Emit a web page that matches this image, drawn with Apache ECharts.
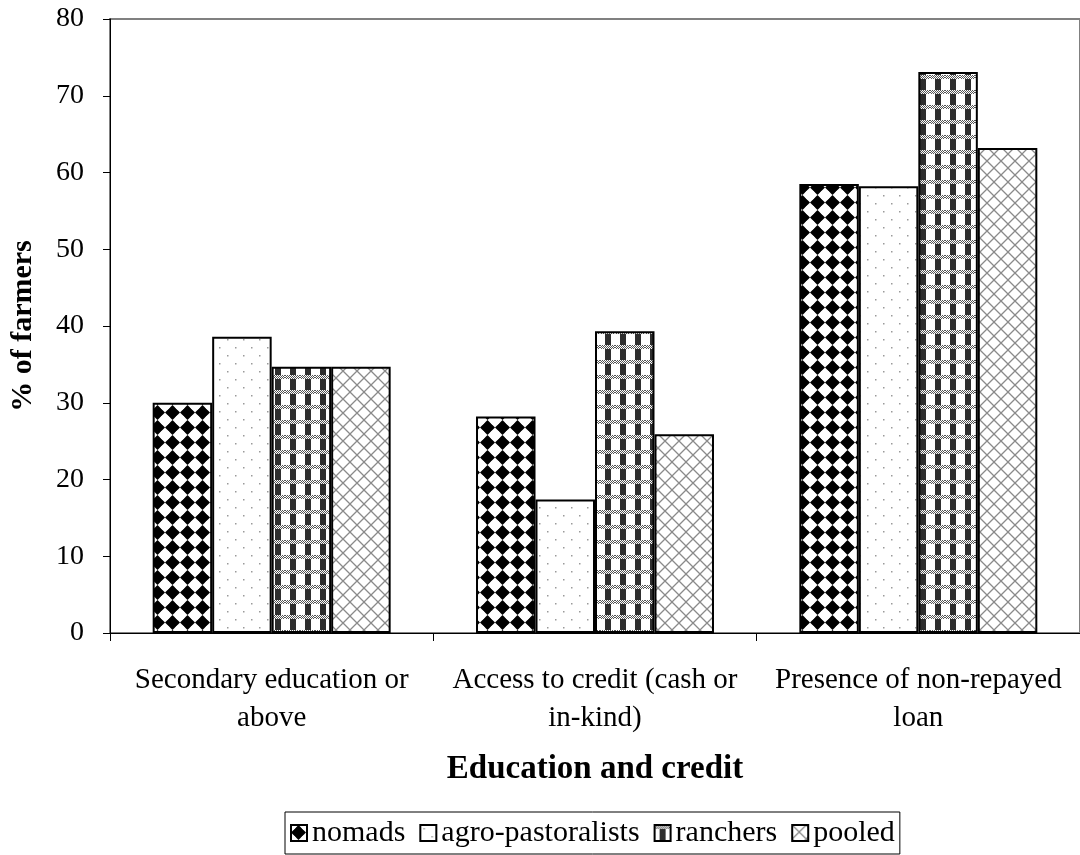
<!DOCTYPE html>
<html>
<head>
<meta charset="utf-8">
<script src="https://cdn.jsdelivr.net/npm/echarts@6/dist/echarts.min.js"></script>
<style>
  html, body { margin: 0; padding: 0; background: #fff; }
  #chart { width: 1080px; height: 855px; }
</style>
</head>
<body>
<div id="chart"></div>
<script>
// data
var categories = ['Secondary education or\nabove', 'Access to credit (cash or\nin-kind)', 'Presence of non-repayed\nloan'];
var nomads = [30.0, 28.2, 58.5];
var agroPastoralists = [38.6, 17.4, 58.2];
var ranchers = [34.7, 39.3, 73.1];
var pooled = [34.7, 25.9, 63.2];
var yTicks = [0, 80, 10];

var FONT = 'Liberation Serif';

// pattern fills (black and white hatching like the original)
function makeCanvas(w, h) {
  var c = document.createElement('canvas');
  c.width = w; c.height = h;
  return c;
}
function patNomads() {
  var c = makeCanvas(15, 15), g = c.getContext('2d');
  g.fillStyle = '#fff'; g.fillRect(0, 0, 15, 15);
  g.fillStyle = '#000';
  g.beginPath();
  g.moveTo(7.5, 0); g.lineTo(15, 7.5); g.lineTo(7.5, 15); g.lineTo(0, 7.5);
  g.closePath(); g.fill();
  g.fillStyle = '#fff';
  [[0, 0], [15, 0], [0, 15], [15, 15]].forEach(function (p) {
    g.beginPath(); g.arc(p[0], p[1], 5.2, 0, Math.PI * 2); g.fill();
  });
  return c;
}
function patAgro() {
  var c = makeCanvas(16, 16), g = c.getContext('2d');
  g.fillStyle = '#fff'; g.fillRect(0, 0, 16, 16);
  g.fillStyle = '#9a9a9a';
  g.fillRect(3, 3, 1.5, 1.5);
  g.fillRect(11, 11, 1.5, 1.5);
  return c;
}
function patRanchers() {
  var c = makeCanvas(15, 15), g = c.getContext('2d');
  g.fillStyle = '#fff'; g.fillRect(0, 0, 15, 15);
  g.fillStyle = '#2e2e2e';
  g.fillRect(5, 0, 6, 15);
  for (var y = 0; y < 4; y++) {
    for (var x = 0; x < 15; x++) {
      g.fillStyle = (x + y) % 2 === 0 ? '#555' : '#fff';
      g.fillRect(x, y, 1, 1);
    }
  }
  return c;
}
function patPooled() {
  var c = makeCanvas(14, 14), g = c.getContext('2d');
  g.fillStyle = '#fff'; g.fillRect(0, 0, 14, 14);
  g.strokeStyle = '#8a8a8a'; g.lineWidth = 1.3;
  g.beginPath();
  g.moveTo(0, 0); g.lineTo(14, 14);
  g.moveTo(14, 0); g.lineTo(0, 14);
  g.stroke();
  return c;
}

function barSeries(name, data, pat) {
  return {
    name: name,
    type: 'bar',
    data: data,
    barGap: '0%',
    barCategoryGap: '26.4%',
    itemStyle: {
      color: { image: pat, repeat: 'repeat' },
      borderColor: '#000',
      borderWidth: 2
    },
    emphasis: { disabled: true }
  };
}

var myChart = echarts.init(document.getElementById('chart'), null, { renderer: 'canvas' });

var option = {
  animation: false,
  backgroundColor: '#fff',
  textStyle: { fontFamily: FONT, color: '#000' },
  grid: {
    left: 107, top: 19, width: 978, height: 614,
    show: true, borderColor: '#808080', borderWidth: 2, backgroundColor: 'transparent'
  },
  legend: {
    left: 285,
    top: 812,
    icon: 'rect',
    itemWidth: 16,
    itemHeight: 16,
    itemGap: 14,
    padding: [4, 5, 4, 5],
    borderColor: '#000',
    borderWidth: 1,
    textStyle: { fontFamily: FONT, fontSize: 30, lineHeight: 34, color: '#000' },
    data: ['nomads', 'agro-pastoralists', 'ranchers', 'pooled']
  },
  xAxis: {
    type: 'category',
    data: categories,
    axisLine: { show: true, lineStyle: { color: '#000', width: 1 } },
    axisTick: { show: true, length: 8, lineStyle: { color: '#000' } },
    axisLabel: {
      fontFamily: FONT, fontSize: 29, color: '#000',
      lineHeight: 38, margin: 28, interval: 0
    },
    name: 'Education and credit',
    nameLocation: 'middle',
    nameGap: 120,
    nameTextStyle: { fontFamily: FONT, fontSize: 33, fontWeight: 'bold', color: '#000' }
  },
  yAxis: {
    type: 'value',
    min: yTicks[0],
    max: yTicks[1],
    interval: yTicks[2],
    splitLine: { show: false },
    axisLine: { show: true, lineStyle: { color: '#000', width: 1 } },
    axisTick: { show: true, length: 7, lineStyle: { color: '#000' } },
    axisLabel: { fontFamily: FONT, fontSize: 28, color: '#000', margin: 26 },
    name: '% of farmers',
    nameLocation: 'middle',
    nameGap: 72,
    nameTextStyle: { fontFamily: FONT, fontSize: 30, fontWeight: 'bold', color: '#000' }
  },
  series: [
    barSeries('nomads', nomads, patNomads()),
    barSeries('agro-pastoralists', agroPastoralists, patAgro()),
    barSeries('ranchers', ranchers, patRanchers()),
    barSeries('pooled', pooled, patPooled())
  ]
};

myChart.setOption(option);
</script>
</body>
</html>
